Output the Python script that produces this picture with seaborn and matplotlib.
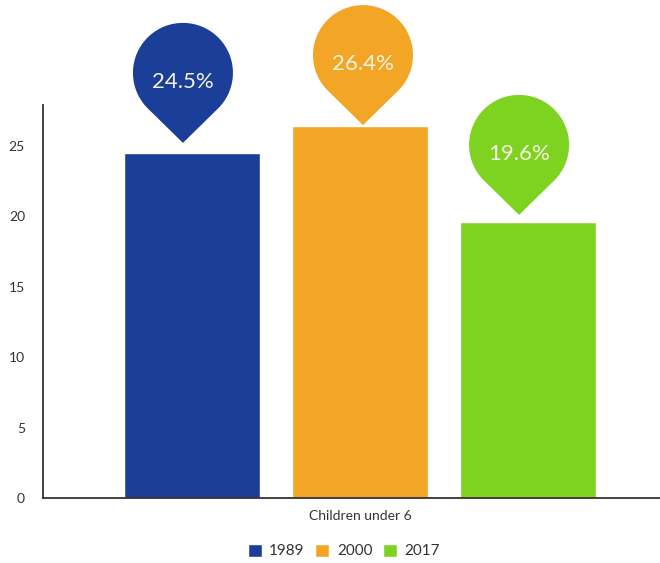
import numpy as np
import pandas as pd
import matplotlib
matplotlib.use("Agg")
import matplotlib.pyplot as plt
import matplotlib.transforms as mtransforms
from matplotlib.patches import Polygon
import seaborn as sns

# Data
category = ["Children under 6"]
years = ["1989", "2000", "2017"]
values = [24.5, 26.4, 19.6]
labels = ["24.5%", "26.4%", "19.6%"]
colors = ["#1b3f99", "#f3a626", "#7ed321"]

df = pd.DataFrame({"group": category * len(years), "year": years, "value": values})

sns.set_theme(style="white")
plt.rcParams["font.family"] = ["Lato", "DejaVu Sans"]

fig = plt.figure(figsize=(6.6, 5.63), dpi=100)
ax = fig.add_axes([43 / 660, 65 / 563, 617 / 660, 393 / 563])

sns.barplot(data=df, x="group", y="value", hue="year", palette=colors,
            width=0.8, gap=0.19, saturation=1, ax=ax, legend=True)

ax.set_xlim(-0.503, 0.476)
ax.set_ylim(0, 27.9)
ax.set_yticks([0, 5, 10, 15, 20, 25])
ax.set_xlabel("")
ax.set_ylabel("")
for side in ["top", "right"]:
    ax.spines[side].set_visible(False)
for side in ["left", "bottom"]:
    ax.spines[side].set_color("#333333")
    ax.spines[side].set_linewidth(1.3)
ax.tick_params(axis="y", length=0, pad=13, labelsize=10, labelcolor="#333333")
ax.tick_params(axis="x", length=0, pad=9, labelsize=10, labelcolor="#333333")

# Teardrop value markers above each bar (sizes in pixels)
radius = 50
center_h = 70
text_h = 61
tip_dx = [-9, 3, -9]
tip_dy = [10, 1, 7]
theta = np.degrees(np.arccos(radius / center_h))
ang = np.radians(np.linspace(-90 + theta, 270 - theta, 120))
shape = np.vstack([[0, 0], np.column_stack([radius * np.cos(ang), center_h + radius * np.sin(ang)])])

for bar, lab, col, dx, dy in zip(ax.patches[:3], labels, colors, tip_dx, tip_dy):
    bx = bar.get_x() + bar.get_width() / 2
    by = bar.get_height()
    trans = mtransforms.Affine2D().translate(dx, dy) + mtransforms.ScaledTranslation(bx, by, ax.transData)
    ax.add_patch(Polygon(shape, closed=True, facecolor=col, edgecolor="none",
                         transform=trans, clip_on=False, zorder=5))
    ax.text(0, text_h, lab, transform=trans, ha="center", va="center",
            fontsize=16, color="#f7f3e3", zorder=6, clip_on=False)

# Legend below the axis
handles, texts = ax.get_legend_handles_labels()
ax.get_legend().remove()
fig.legend(handles, texts, loc="center", bbox_to_anchor=(0.521, 0.021), ncol=3,
           frameon=False, fontsize=11, handlelength=0.9, handleheight=0.9,
           handletextpad=0.5, columnspacing=0.7, labelcolor="#333333")

fig.savefig("out.png", dpi=100)
